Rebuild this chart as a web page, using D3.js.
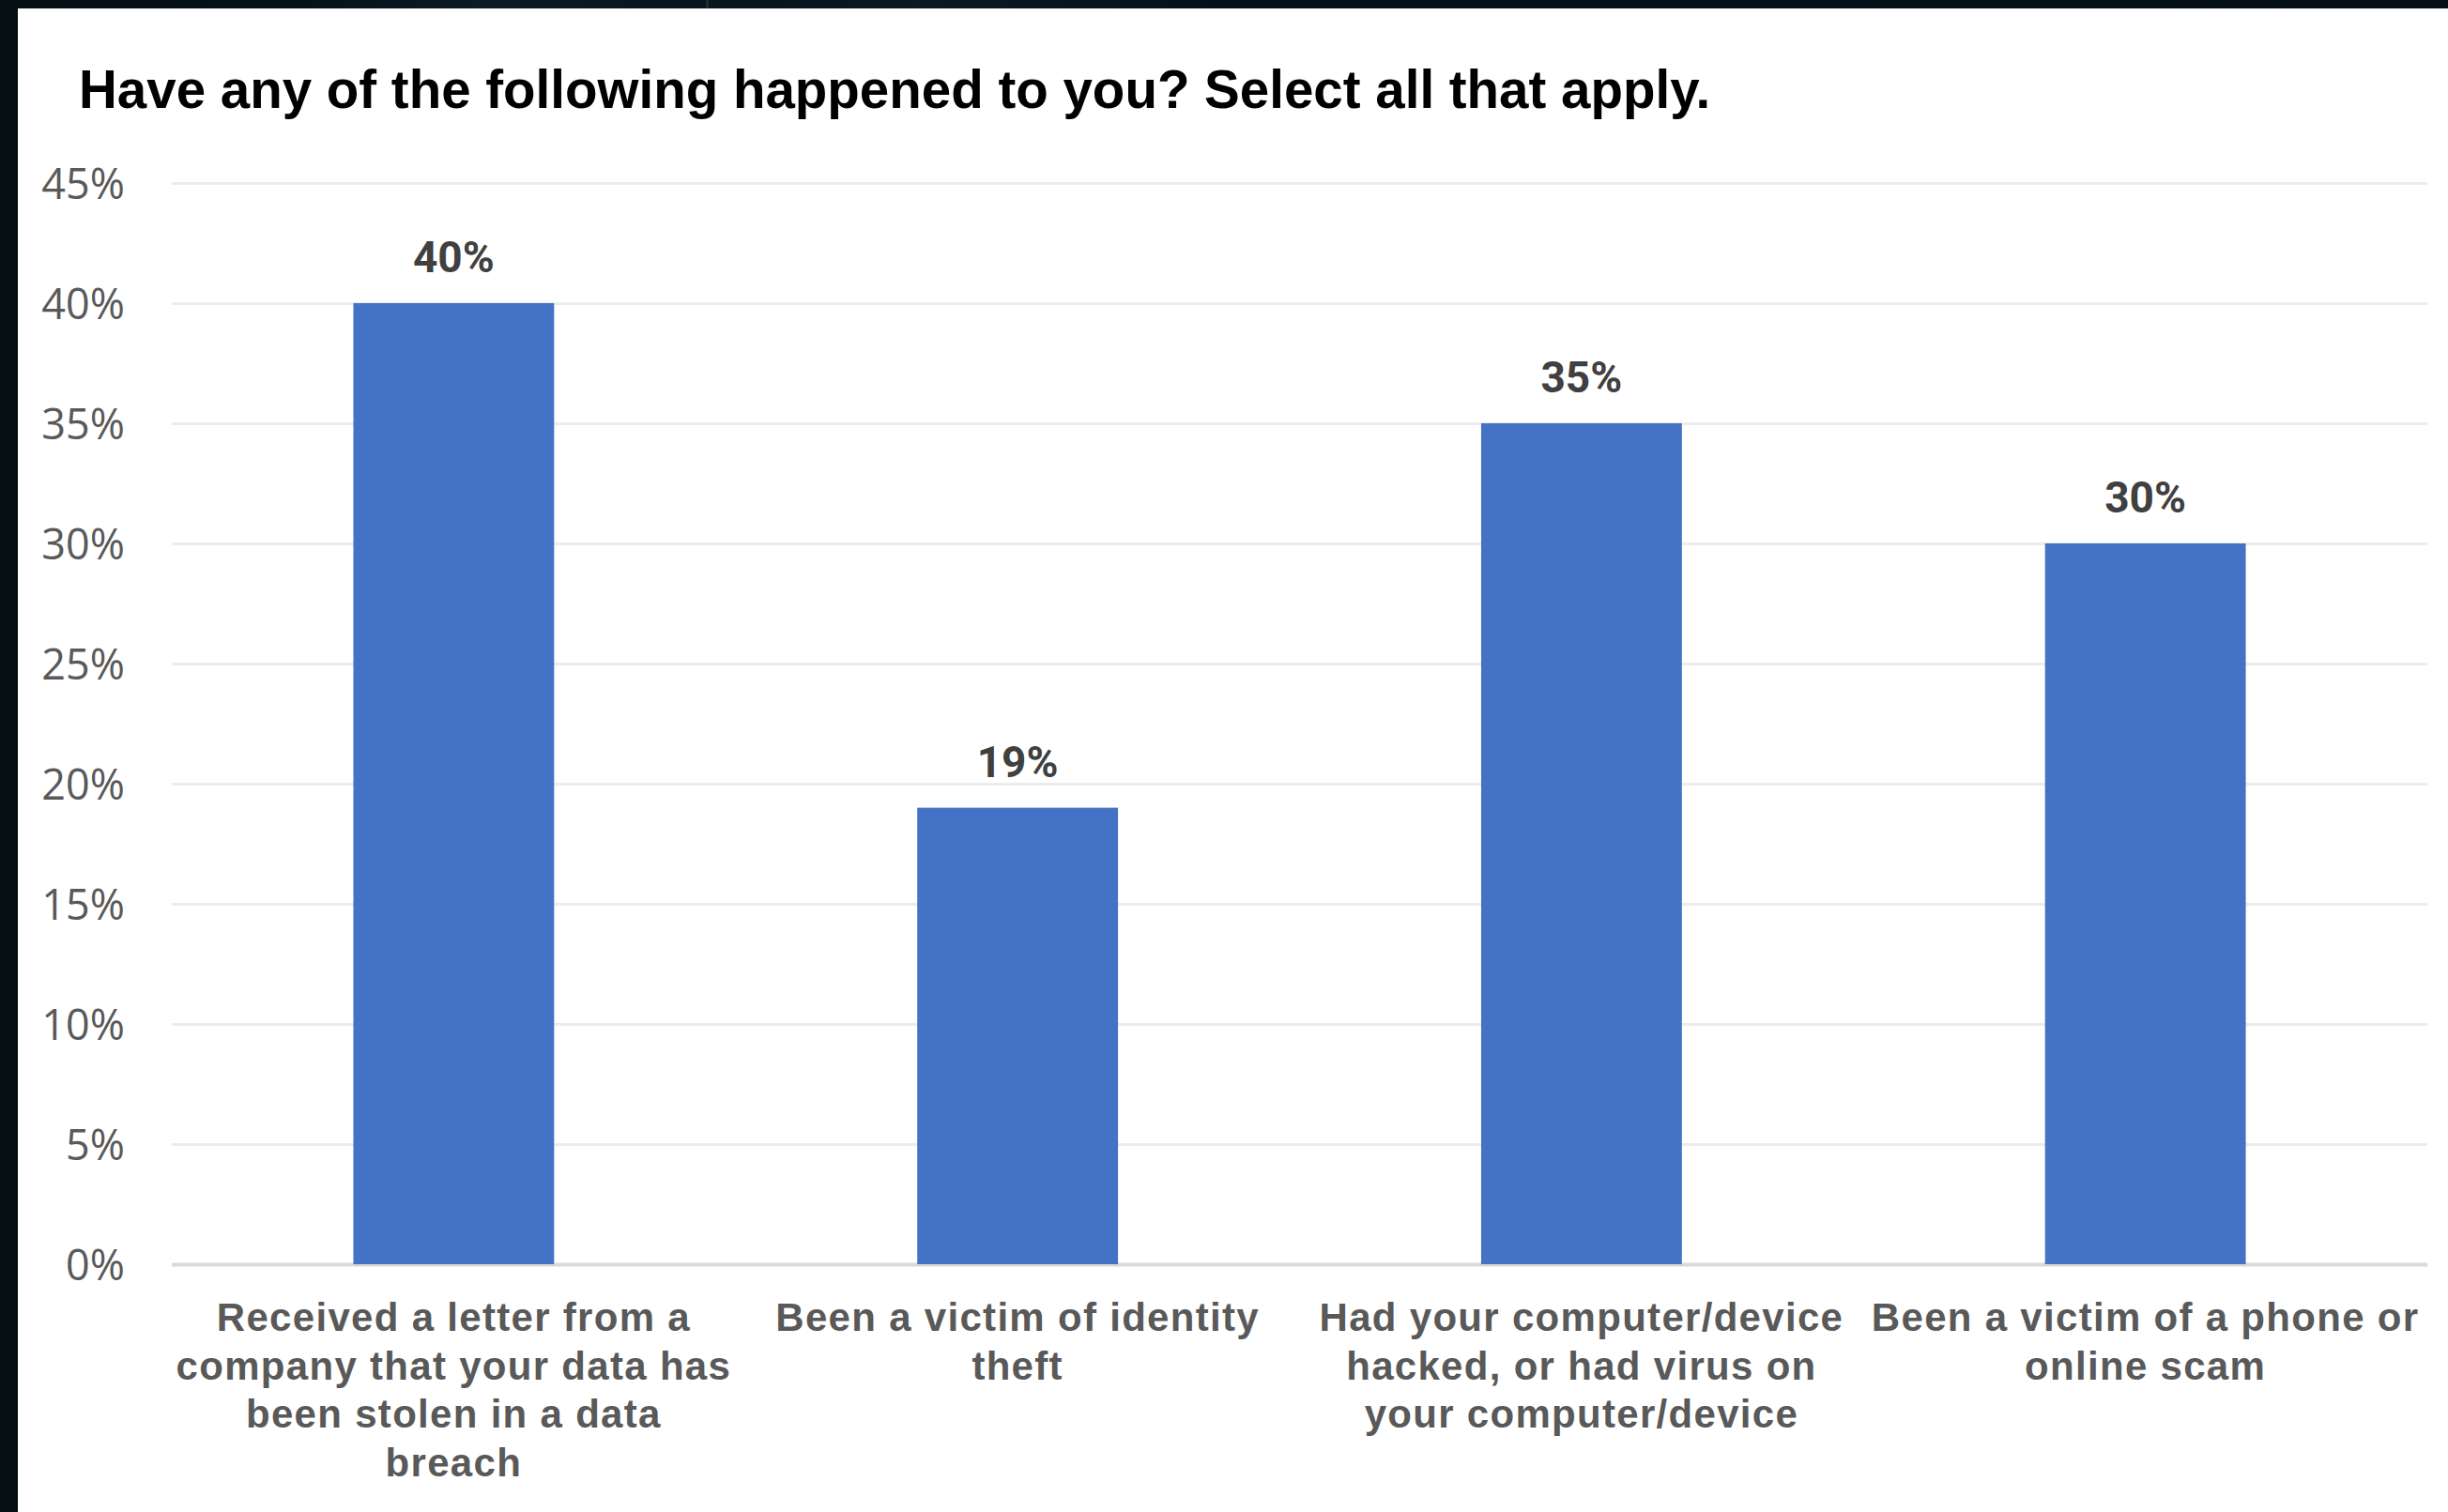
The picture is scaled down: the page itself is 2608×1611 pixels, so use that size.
<!DOCTYPE html>
<html>
<head>
<meta charset="utf-8">
<script src="https://cdn.jsdelivr.net/npm/d3@7"></script>
<style>
  html, body { margin: 0; padding: 0; background: #ffffff; }
  svg { display: block; }
</style>
</head>
<body>
<div id="chart"></div>
<script>
// Survey question and answer data
const chartTitle = "Have any of the following happened to you? Select all that apply.";
const categories = [
  "Received a letter from a company that your data has been stolen in a data breach",
  "Been a victim of identity theft",
  "Had your computer/device hacked, or had virus on your computer/device",
  "Been a victim of a phone or online scam"
];
// How each category label breaks across lines under its bar
const categoryLines = [
  ["Received a letter from a", "company that your data has", "been stolen in a data", "breach"],
  ["Been a victim of identity", "theft"],
  ["Had your computer/device", "hacked, or had virus on", "your computer/device"],
  ["Been a victim of a phone or", "online scam"]
];
const shares = [0.40, 0.19, 0.35, 0.30];
const yTicks = [0, 0.05, 0.10, 0.15, 0.20, 0.25, 0.30, 0.35, 0.40, 0.45];

const W = 2608, H = 1611;
const plot = { left: 183, right: 2586, top: 195, bottom: 1347 };

const svg = d3.select("#chart").append("svg")
  .attr("width", W).attr("height", H)
  .attr("viewBox", `0 0 ${W} ${H}`);

// Dark surround along the top and left edges
const defs = svg.append("defs");
const grad = defs.append("linearGradient").attr("id", "edgeGrad")
  .attr("x1", "0").attr("x2", "1").attr("y1", "0").attr("y2", "0");
[["0", "#040f14"], ["0.12", "#041118"], ["0.2", "#0c1c25"], ["0.3", "#06141c"],
 ["0.38", "#0b1a22"], ["0.5", "#03101a"], ["1", "#040f16"]]
  .forEach(([o, c]) => grad.append("stop").attr("offset", o).attr("stop-color", c));
svg.append("rect").attr("x", 0).attr("y", 0).attr("width", W).attr("height", 9)
  .attr("fill", "url(#edgeGrad)");
svg.append("rect").attr("x", 752).attr("y", 0).attr("width", 3).attr("height", 9)
  .attr("fill", "#1f2a30");
svg.append("rect").attr("x", 0).attr("y", 0).attr("width", 19).attr("height", H)
  .attr("fill", "#040f13");

// Scales
const x = d3.scaleBand()
  .domain(categories)
  .range([plot.left, plot.right])
  .paddingInner(0.644)
  .paddingOuter(0.322);

const y = d3.scaleLinear()
  .domain([0, 0.45])
  .range([plot.bottom, plot.top]);

// Gridlines and percentage labels
const yAxis = d3.axisLeft(y)
  .tickValues(yTicks)
  .tickFormat(d3.format(".0%"))
  .tickSize(-(plot.right - plot.left))
  .tickPadding(50);

const gy = svg.append("g")
  .attr("transform", `translate(${plot.left},0)`)
  .call(yAxis);
gy.select(".domain").remove();
gy.selectAll(".tick line")
  .attr("stroke", d => d === 0 ? "#d9d9d9" : "#ececec")
  .attr("stroke-width", d => d === 0 ? 4 : 3);
gy.selectAll(".tick text")
  .attr("fill", "#595959")
  .attr("font-family", "'Open Sans', 'Noto Sans', sans-serif")
  .attr("font-size", 45)
  .attr("dy", "0.36em");

// Bars
svg.append("g").selectAll("rect")
  .data(shares)
  .join("rect")
  .attr("x", (d, i) => x(categories[i]))
  .attr("y", d => y(d))
  .attr("width", x.bandwidth())
  .attr("height", d => y(0) - y(d))
  .attr("fill", "#4472c4");

// Value labels above bars
svg.append("g").selectAll("text")
  .data(shares)
  .join("text")
  .attr("x", (d, i) => x(categories[i]) + x.bandwidth() / 2)
  .attr("y", d => y(d) - 33)
  .attr("text-anchor", "middle")
  .attr("font-family", "Roboto, 'Liberation Sans', sans-serif")
  .attr("font-weight", "bold")
  .attr("font-size", 46)
  .attr("fill", "#404040")
  .text(d => d3.format(".0%")(d));

// Category labels below the axis
const xl = svg.append("g").selectAll("text")
  .data(categories)
  .join("text")
  .attr("x", d => x(d) + x.bandwidth() / 2)
  .attr("y", 1418)
  .attr("text-anchor", "middle")
  .attr("font-family", "'Liberation Sans', Arial, sans-serif")
  .attr("font-weight", "bold")
  .attr("font-size", 42)
  .attr("letter-spacing", 1.3)
  .attr("fill", "#595959");
xl.each(function (d, i) {
  const t = d3.select(this);
  categoryLines[i].forEach((line, k) => {
    t.append("tspan")
      .attr("x", x(d) + x.bandwidth() / 2)
      .attr("dy", k === 0 ? 0 : 51.7)
      .text(line);
  });
});

// Title
svg.append("text")
  .attr("x", 84)
  .attr("y", 115)
  .attr("font-family", "'Liberation Sans', Arial, sans-serif")
  .attr("font-weight", "bold")
  .attr("font-size", 56.5)
  .attr("fill", "#000000")
  .text(chartTitle);
</script>
</body>
</html>
